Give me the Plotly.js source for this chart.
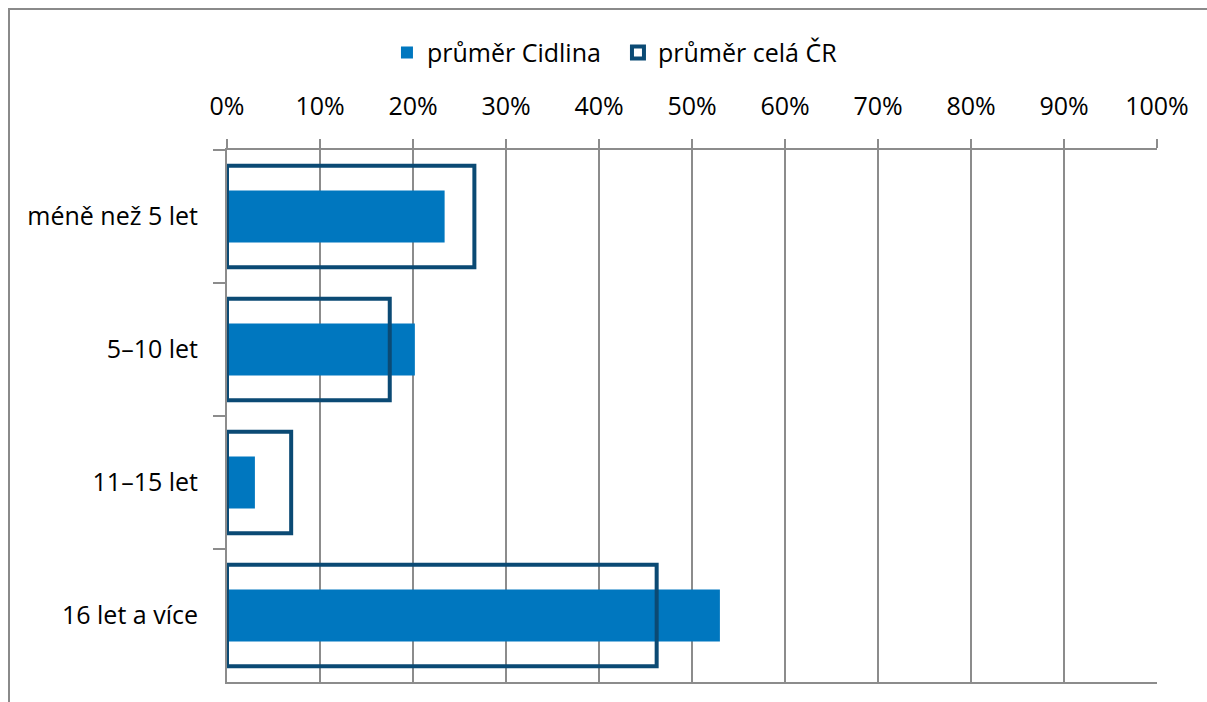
<!DOCTYPE html>
<html>
<head>
<meta charset="utf-8">
<script src="https://cdn.plot.ly/plotly-3.0.1.min.js"></script>
<style>
html,body{margin:0;padding:0;background:#fff;}
#frame{position:absolute;left:8px;top:8px;width:1300px;height:800px;border-left:2px solid #8a8a8a;border-top:2px solid #8a8a8a;pointer-events:none;z-index:5;}
#chart{width:1207px;height:702px;}
</style>
</head>
<body>
<div id="frame"></div>
<div id="chart"></div>
<script>
var categories = ["méně než 5 let", "5–10 let", "11–15 let", "16 let a více"];
var cidlina = [23.4, 20.2, 3.0, 53.0];
var cr = [26.6, 17.5, 6.9, 46.2];
var tickVals = [0,10,20,30,40,50,60,70,80,90,100];
var tickText = ["0%","10%","20%","30%","40%","50%","60%","70%","80%","90%","100%"];

var font = "'Open Sans', 'Noto Sans', sans-serif";

var traces = [
  {
    type: 'bar', orientation: 'h', name: 'průměr Cidlina',
    y: categories, x: cidlina, width: 0.39,
    marker: {color: '#0077bf', line: {width: 0}},
    hoverinfo: 'x+y'
  },
  {
    type: 'bar', orientation: 'h', name: 'průměr celá ČR',
    y: categories, x: cr, width: 0.765,
    marker: {color: 'rgba(0,0,0,0)', line: {color: '#0b4a74', width: 4}},
    hoverinfo: 'x+y'
  }
];

var layout = {
  width: 1207, height: 702,
  margin: {l: 227, r: 50, t: 150, b: 20},
  paper_bgcolor: '#fff', plot_bgcolor: '#fff',
  barmode: 'overlay',
  font: {family: font, size: 25, color: '#000'},
  showlegend: true,
  legend: {
    orientation: 'h', xref: 'container', yref: 'container',
    x: 0.3206, xanchor: 'left', y: 0.925, yanchor: 'middle',
    font: {family: font, size: 25, color: '#000'},
    entrywidth: 186, entrywidthmode: 'pixels',
    traceorder: 'normal', bgcolor: 'rgba(0,0,0,0)'
  },
  xaxis: {
    side: 'top', range: [0, 100], fixedrange: true,
    tickvals: tickVals, ticktext: tickText,
    showgrid: true, gridcolor: '#8c8c8c', gridwidth: 2,
    showline: true, linecolor: '#8c8c8c', linewidth: 2, mirror: true,
    ticks: 'outside', ticklen: 9, tickwidth: 2, tickcolor: '#8c8c8c',
    ticklabelstandoff: 14,
    zeroline: false,
    tickfont: {family: font, size: 25, color: '#000'}
  },
  yaxis: {
    type: 'category', categoryorder: 'array', categoryarray: categories,
    autorange: 'reversed', fixedrange: true,
    showgrid: false, zeroline: false,
    showline: true, linecolor: '#8c8c8c', linewidth: 2,
    ticks: 'outside', tickson: 'boundaries', ticklen: 12, tickwidth: 2, tickcolor: '#8c8c8c',
    ticklabelstandoff: 22,
    tickfont: {family: font, size: 25, color: '#000'}
  }
};

Plotly.newPlot('chart', traces, layout, {displayModeBar: false, staticPlot: true});
</script>
</body>
</html>
